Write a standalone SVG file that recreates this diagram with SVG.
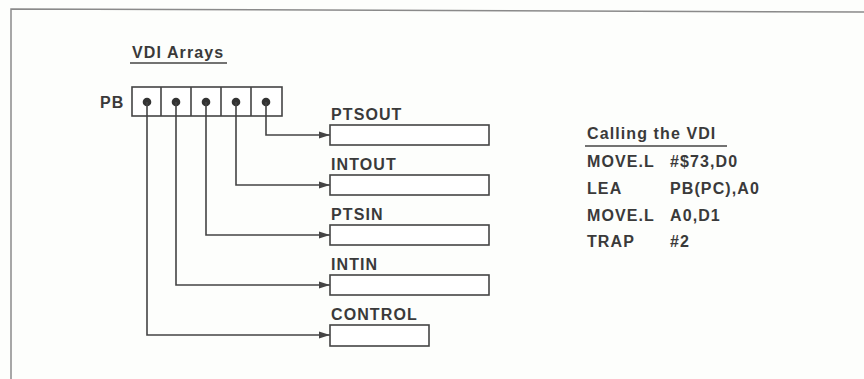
<svg xmlns="http://www.w3.org/2000/svg" width="864" height="379" viewBox="0 0 864 379">
  <style>
    .t { font-family: "Liberation Sans", Arial, sans-serif; font-weight: bold; font-size: 16px; fill: #3a3a3a; letter-spacing: 1.1px; }
    .ln { stroke: #444; stroke-width: 1.6; fill: none; }
    .box { stroke: #444; stroke-width: 1.6; fill: #fff; }
    .frame { stroke: #8a8a8a; stroke-width: 1.5; fill: none; }
  </style>
  <defs>
    <marker id="ah" viewBox="0 0 11 8" refX="11" refY="4" markerWidth="11" markerHeight="8" markerUnits="userSpaceOnUse" orient="auto">
      <path d="M0,0.5 L11,4 L0,7.5 Z" fill="#444"/>
    </marker>
  </defs>
  <rect x="0" y="0" width="864" height="379" fill="#fdfefc"/>
  <path class="frame" d="M11,379 L11,9 L864,12"/>

  <g id="title-arrays">
    <text class="t" x="132" y="58">VDI Arrays</text>
    <path class="ln" d="M130,63 H227"/>
  </g>

  <g id="pb">
    <text class="t" x="100" y="108">PB</text>
    <rect class="box" x="132" y="87" width="150" height="29"/>
    <path class="ln" d="M161,87 V116 M191,87 V116 M221,87 V116 M251,87 V116"/>
    <circle cx="147" cy="102" r="4.3" fill="#333"/>
    <circle cx="176" cy="102" r="4.3" fill="#333"/>
    <circle cx="206" cy="102" r="4.3" fill="#333"/>
    <circle cx="236" cy="102" r="4.3" fill="#333"/>
    <circle cx="266" cy="102" r="4.3" fill="#333"/>
  </g>

  <g id="connectors">
    <path class="ln" d="M266,102 V135 H330" marker-end="url(#ah)"/>
    <path class="ln" d="M236,102 V185 H330" marker-end="url(#ah)"/>
    <path class="ln" d="M206,102 V235 H330" marker-end="url(#ah)"/>
    <path class="ln" d="M176,102 V285 H330" marker-end="url(#ah)"/>
    <path class="ln" d="M147,102 V335 H330" marker-end="url(#ah)"/>
  </g>

  <g id="ptsout">
    <text class="t" x="331" y="120">PTSOUT</text>
    <rect class="box" x="330" y="125" width="159" height="20"/>
  </g>
  <g id="intout">
    <text class="t" x="331" y="170">INTOUT</text>
    <rect class="box" x="330" y="175" width="159" height="20"/>
  </g>
  <g id="ptsin">
    <text class="t" x="331" y="220">PTSIN</text>
    <rect class="box" x="330" y="225" width="159" height="20"/>
  </g>
  <g id="intin">
    <text class="t" x="331" y="270">INTIN</text>
    <rect class="box" x="330" y="275" width="159" height="20"/>
  </g>
  <g id="control">
    <text class="t" x="331" y="320">CONTROL</text>
    <rect class="box" x="330" y="325" width="99" height="21"/>
  </g>

  <g id="calling-vdi">
    <text class="t" x="587" y="139">Calling the VDI</text>
    <path class="ln" d="M585,146 H727"/>
    <text class="t" x="587" y="167">MOVE.L</text>
    <text class="t" x="670" y="167">#$73,D0</text>
    <text class="t" x="587" y="194">LEA</text>
    <text class="t" x="670" y="194">PB(PC),A0</text>
    <text class="t" x="587" y="221">MOVE.L</text>
    <text class="t" x="670" y="221">A0,D1</text>
    <text class="t" x="587" y="247">TRAP</text>
    <text class="t" x="670" y="247">#2</text>
  </g>
</svg>
